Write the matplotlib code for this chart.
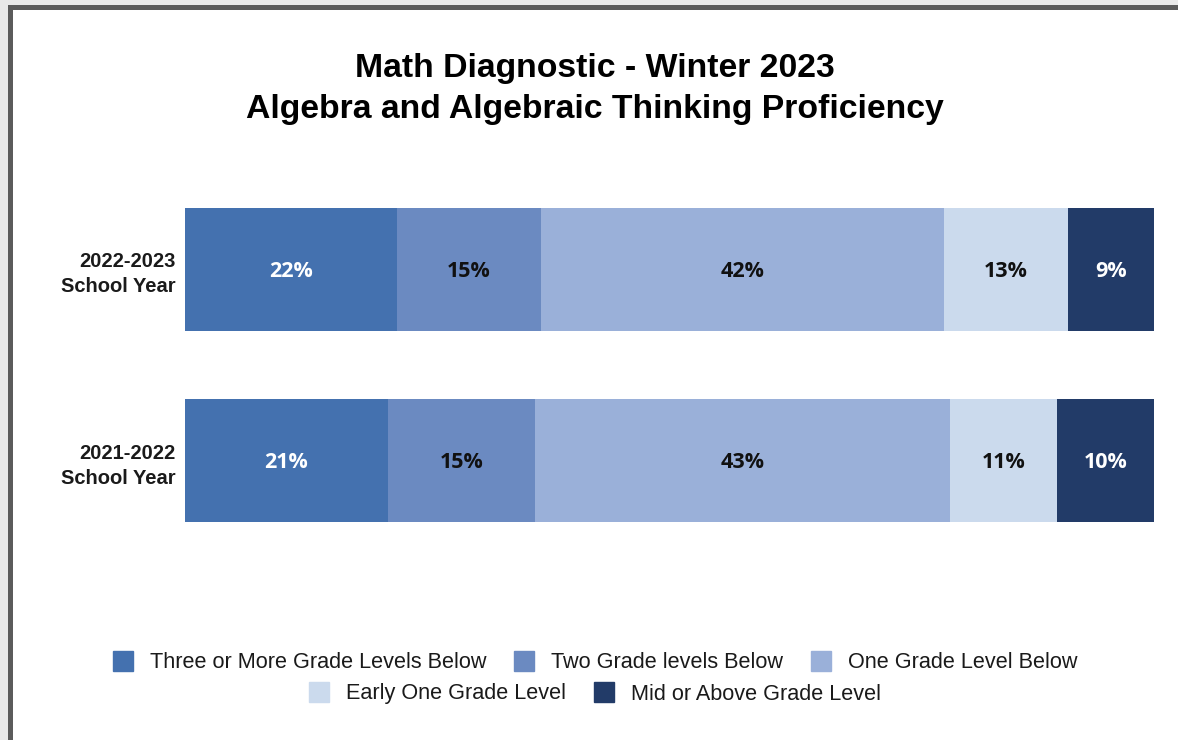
import matplotlib.pyplot as plt
from matplotlib.patches import Rectangle
from matplotlib.lines import Line2D

plt.rcParams['font.family'] = ['Liberation Sans', 'DejaVu Sans']

# data
years = ['2022-2023\nSchool Year', '2021-2022\nSchool Year']
levels = ['Three or More Grade Levels Below', 'Two Grade levels Below',
          'One Grade Level Below', 'Early One Grade Level', 'Mid or Above Grade Level']
pct_2223 = [21.9, 14.8, 41.6, 12.8, 9.0]
pct_2122 = [20.9, 15.2, 42.8, 11.1, 10.0]
labels_2223 = ['22%', '15%', '42%', '13%', '9%']
labels_2122 = ['21%', '15%', '43%', '11%', '10%']

colors = ['#4471AF', '#6B8AC1', '#9AB0D9', '#CBDAED', '#223B68']
text_colors = ['white', '#111111', '#111111', '#111111', 'white']

W, H = 1178, 740
fig = plt.figure(figsize=(W / 100, H / 100), dpi=100)
fig.patch.set_facecolor('#e9e9e9')

# white card with dark frame
fig.patches.append(Rectangle((9.5 / W, -0.1), 1.2, 1 - 7.5 / H + 0.1,
                             transform=fig.transFigure, facecolor='white',
                             edgecolor='#5b5b5b', linewidth=3.6, zorder=0))

ax = fig.add_axes([185 / W, 1 - 540 / H, (1154 - 185) / W, 350 / H])
ax.set_facecolor('none')
ax.set_zorder(3)

rows = [pct_2223, pct_2122]
row_labels = [labels_2223, labels_2122]
for i, (vals, labs) in enumerate(zip(rows, row_labels)):
    left = 0
    for j, (v, lab) in enumerate(zip(vals, labs)):
        ax.barh(i, v, left=left, height=0.644, color=colors[j], linewidth=0)
        ax.text(left + v / 2, i + 0.01, lab, ha='center', va='center',
                color=text_colors[j], fontsize=15.5, fontweight='bold',
                family=['Open Sans', 'DejaVu Sans'])
        left += v

ax.set_xlim(0, 100)
ax.set_ylim(1.416, -0.416)
ax.set_yticks([0, 1])
ax.set_yticklabels(years, fontsize=14.5, fontweight='bold', color='#1a1a1a',
                   linespacing=1.4)
ax.tick_params(axis='y', length=0, pad=7)
ax.set_xticks([])
for s in ax.spines.values():
    s.set_visible(False)

fig.text(595 / W, 1 - 89 / H,
         'Math Diagnostic - Winter 2023\nAlgebra and Algebraic Thinking Proficiency',
         ha='center', va='center', fontsize=24.3, fontweight='bold',
         color='black', linespacing=1.45, zorder=4)

# legend in two centred rows
handles = [Line2D([], [], marker='s', linestyle='none', markersize=15,
                  markerfacecolor=c, markeredgecolor=c) for c in colors]
leg_kw = dict(loc='center', frameon=False, fontsize=15.6, handletextpad=0.75,
              columnspacing=1.25, handlelength=1.0, labelcolor='#1a1a1a')
leg1 = fig.legend(handles[:3], levels[:3], ncol=3,
                  bbox_to_anchor=(595 / W, 1 - 663 / H), **leg_kw)
leg1.set_zorder(4)
leg2 = fig.legend(handles[3:], levels[3:], ncol=2,
                  bbox_to_anchor=(595 / W, 1 - 694 / H), **leg_kw)
leg2.set_zorder(4)

fig.savefig('out.png', dpi=100, facecolor=fig.get_facecolor())
